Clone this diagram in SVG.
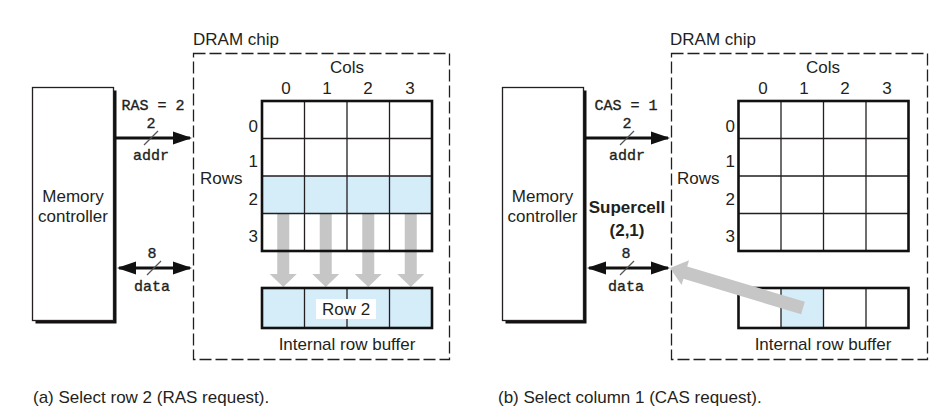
<svg xmlns="http://www.w3.org/2000/svg" width="945" height="415" viewBox="0 0 945 415">
<defs>
<style>
text{font-family:"Liberation Sans",Arial,sans-serif;font-size:17px;fill:#231f20}
.m{font-family:"Liberation Mono","Courier New",monospace;font-size:15px;stroke:#231f20;stroke-width:0.35}
.b{font-weight:bold}
.c{text-anchor:middle}
.e{text-anchor:end}
.chip{fill:none;stroke:#231f20;stroke-width:1.3;stroke-dasharray:12 4}
.ctl{fill:#fff;stroke:#231f20;stroke-width:1.3}
.sh{fill:#111}
.in{stroke:#231f20;stroke-width:1.3;fill:none}
.out{stroke:#111;stroke-width:2.6;fill:none}
.hl{fill:#d5edf9}
.bus{stroke:#111;stroke-width:3;fill:none}
.sl{stroke:#555;stroke-width:1.2}
.gray{fill:#c6c6c6}
</style>
<marker id="ah" markerUnits="userSpaceOnUse" markerWidth="20" markerHeight="14" refX="17" refY="7" orient="auto-start-reverse" viewBox="0 0 20 14">
<path d="M0,0.5 L19,7 L0,13.5 z" fill="#111"/>
</marker>
</defs>
<rect width="945" height="415" fill="#fff"/>

<!-- ===== Panel (a) ===== -->
<g id="a-controller">
<rect class="sh" x="35.5" y="90.5" width="81" height="233"/>
<rect class="ctl" x="32.5" y="87.5" width="81" height="233"/>
<text class="c" x="73" y="202">Memory</text>
<text class="c" x="73" y="222">controller</text>
</g>

<g id="a-chip">
<rect class="chip" x="193.5" y="53.5" width="256" height="306"/>
<text x="193" y="45">DRAM chip</text>
<text class="c" x="347" y="73">Cols</text>
<text class="c" x="286" y="94">0</text>
<text class="c" x="327" y="94">1</text>
<text class="c" x="368" y="94">2</text>
<text class="c" x="410" y="94">3</text>
<text x="200" y="184">Rows</text>
<text class="e" x="258" y="132">0</text>
<text class="e" x="258" y="167">1</text>
<text class="e" x="258" y="205">2</text>
<text class="e" x="258" y="242">3</text>
<text class="c" x="347" y="350">Internal row buffer</text>
</g>

<g id="a-array">
<rect class="hl" x="262" y="176" width="170" height="37.5"/>
<g id="a-transfer">
<path class="gray" d="M277.25,213.5 h12 v60.5 h7.5 l-13.5,13 l-13.5,-13 h7.5 z"/>
<path class="gray" d="M319.75,213.5 h12 v60.5 h7.5 l-13.5,13 l-13.5,-13 h7.5 z"/>
<path class="gray" d="M362.25,213.5 h12 v60.5 h7.5 l-13.5,13 l-13.5,-13 h7.5 z"/>
<path class="gray" d="M404.75,213.5 h12 v60.5 h7.5 l-13.5,13 l-13.5,-13 h7.5 z"/>
</g>
<path class="in" d="M304.5,101 V251 M347,101 V251 M389.5,101 V251 M262,138.5 H432 M262,176 H432 M262,213.5 H432"/>
<rect class="out" x="262" y="101" width="170" height="150"/>
</g>

<g id="a-buffer">
<rect class="hl" x="262" y="288" width="170" height="40"/>
<path class="in" d="M304.5,288 V328 M347,288 V328 M389.5,288 V328"/>
<rect class="out" x="262" y="288" width="170" height="40"/>
<rect x="316" y="299" width="60" height="20" fill="#fff"/>
<text class="c" x="346" y="315">Row 2</text>
</g>

<!-- ===== Panel (b) ===== -->
<g id="b-controller">
<rect class="sh" x="505.5" y="90.5" width="81" height="233"/>
<rect class="ctl" x="502.5" y="87.5" width="81" height="233"/>
<text class="c" x="542.5" y="202">Memory</text>
<text class="c" x="542.5" y="222">controller</text>
</g>

<g id="b-chip">
<rect class="chip" x="671.5" y="53.5" width="256" height="306"/>
<text x="670" y="45">DRAM chip</text>
<text class="c" x="823" y="73">Cols</text>
<text class="c" x="763" y="94">0</text>
<text class="c" x="804" y="94">1</text>
<text class="c" x="845" y="94">2</text>
<text class="c" x="887" y="94">3</text>
<text x="677" y="184">Rows</text>
<text class="e" x="735" y="132">0</text>
<text class="e" x="735" y="167">1</text>
<text class="e" x="735" y="205">2</text>
<text class="e" x="735" y="242">3</text>
<text class="c" x="823" y="350">Internal row buffer</text>
</g>

<g id="b-array">
<path class="in" d="M781,101 V251 M823.5,101 V251 M866,101 V251 M738.5,138.5 H908.5 M738.5,176 H908.5 M738.5,213.5 H908.5"/>
<rect class="out" x="738.5" y="101" width="170" height="150"/>
</g>

<g id="b-buffer">
<rect class="hl" x="781" y="288" width="42.5" height="40"/>
<path class="in" d="M781,288 V328 M823.5,288 V328 M866,288 V328"/>
<rect class="out" x="738.5" y="288" width="170" height="40"/>
</g>

<g id="b-supercell-label">
<text class="c b" x="627" y="213">Supercell</text>
<text class="c b" x="627" y="236">(2,1)</text>
</g>

<!-- ===== Connectors ===== -->
<g id="connectors">
<!-- (a) addr bus -->
<line class="bus" x1="116" y1="138" x2="190" y2="138" marker-end="url(#ah)"/>
<line class="sl" x1="144" y1="145" x2="158" y2="131"/>
<text class="m c" x="153" y="110">RAS = 2</text>
<text class="m c" x="151" y="128">2</text>
<text class="m c" x="151" y="160">addr</text>
<!-- (a) data bus -->
<line class="bus" x1="119" y1="268" x2="190" y2="268" marker-start="url(#ah)" marker-end="url(#ah)"/>
<line class="sl" x1="147" y1="275" x2="161" y2="261"/>
<text class="m c" x="152" y="258">8</text>
<text class="m c" x="152" y="291">data</text>

<!-- (b) addr bus -->
<line class="bus" x1="586" y1="138" x2="668" y2="138" marker-end="url(#ah)"/>
<line class="sl" x1="620" y1="145" x2="634" y2="131"/>
<text class="m c" x="626" y="110">CAS = 1</text>
<text class="m c" x="627" y="128">2</text>
<text class="m c" x="627" y="160">addr</text>
<!-- (b) data bus -->
<line class="bus" x1="589" y1="268" x2="668" y2="268" marker-start="url(#ah)" marker-end="url(#ah)"/>
<line class="sl" x1="620" y1="275" x2="634" y2="261"/>
<text class="m c" x="626" y="258">8</text>
<text class="m c" x="626" y="291">data</text>

<!-- (b) supercell transfer arrow -->
<polygon class="gray" points="670,268 689.06,260.16 687.19,266.39 804.87,301.78 801.13,314.22 683.45,278.83 681.58,285.06"/>
</g>

<!-- Captions -->
<text x="33" y="403">(a) Select row 2 (RAS request).</text>
<text x="498" y="403">(b) Select column 1 (CAS request).</text>
</svg>
